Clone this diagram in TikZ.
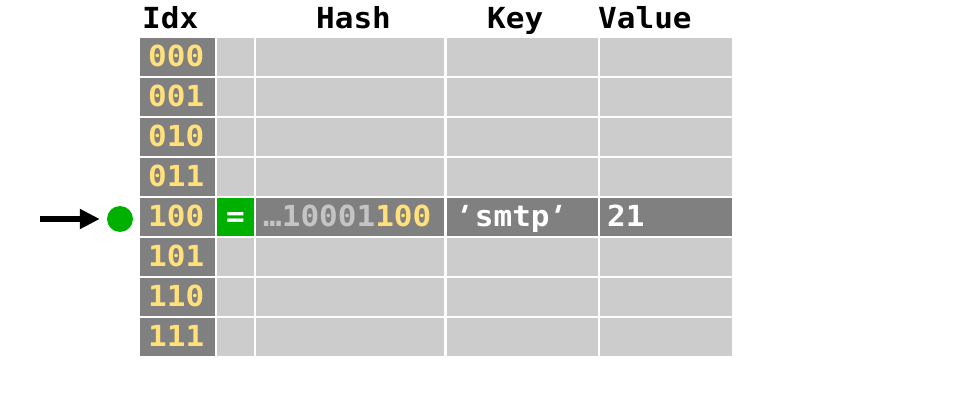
\documentclass[tikz,border=0pt]{standalone}
\usepackage{fontspec}
\setmonofont{DejaVu Sans Mono}[FakeStretch=1.07]
\usetikzlibrary{arrows.meta}

\definecolor{slot}{HTML}{808080}
\definecolor{vacant}{HTML}{CCCCCC}
\definecolor{bits}{HTML}{FFE07A}
\definecolor{hashgray}{HTML}{C4C4C4}
\definecolor{hit}{HTML}{00B000}

% slanted straight quote used around string keys (kerned back so the
% slant does not push it out of its monospace cell)
\newcommand\strquote{{\addfontfeatures{FakeSlant=0.3}\kern-0.2em'\kern0.2em}}

\tikzset{
  cell/.style={rectangle, anchor=north west, inner sep=0pt, minimum height=38pt},
  txt/.style={anchor=base west, inner sep=0pt,
    font=\ttfamily\bfseries\fontsize{29}{29}\selectfont},
  head/.style={txt, text=black},
}

\begin{document}
\begin{tikzpicture}[x=1pt, y=-1pt]
  \useasboundingbox (0,0) rectangle (960,406);

  % column headings
  \node[head] (h-idx)  at (142,29) {Idx};
  \node[head] (h-hash) at (316,29) {Hash};
  \node[head] (h-key)  at (487,29) {Key};
  \node[head] (h-val)  at (598,29) {Value};

  % table cells: eight slots, five columns each
  \foreach \r in {0,...,7} {
    \pgfmathsetmacro\top{38+40*\r}
    \ifnum\r=4 \def\fc{slot}\else\def\fc{vacant}\fi
    \node[cell, minimum width=75pt,  fill=slot] (idx-\r)  at (140,\top) {};
    \node[cell, minimum width=37pt,  fill=\fc]  (eq-\r)   at (217,\top) {};
    \node[cell, minimum width=188pt, fill=\fc]  (hash-\r) at (256,\top) {};
    \node[cell, minimum width=151pt, fill=\fc]  (key-\r)  at (447,\top) {};
    \node[cell, minimum width=132pt, fill=\fc]  (val-\r)  at (600,\top) {};
  }
  % matching slot marker
  \node[cell, minimum width=37pt, fill=hit] (match) at (217,198) {};

  % slot indices
  \foreach \r/\b in {0/000,1/001,2/010,3/011,4/100,5/101,6/110,7/111} {
    \pgfmathsetmacro\base{66.5+40*\r}
    \node[txt, text=bits] (b-\r) at (148,\base) {\b};
  }

  % contents of the occupied slot
  \node[txt, anchor=base, text=white] (eqsign) at (235.5,226.5) {=};
  \node[txt] (hashval) at (263,226.5) {\textcolor{hashgray}{…10001}\textcolor{bits}{100}};
  \node[txt, text=white] (keyval) at (456,226.5) {\strquote smtp\strquote};
  \node[txt, text=white] (valval) at (607,226.5) {21};

  % probe pointer
  \node[circle, fill=hit, minimum size=26pt, inner sep=0pt] (dot) at (120,219) {};
  \coordinate (tail) at (40,219);
  \draw[line width=5.5pt, shorten >=7pt, -{Triangle[length=20pt,width=19pt]}] (tail) -- (dot.west);
\end{tikzpicture}
\end{document}
